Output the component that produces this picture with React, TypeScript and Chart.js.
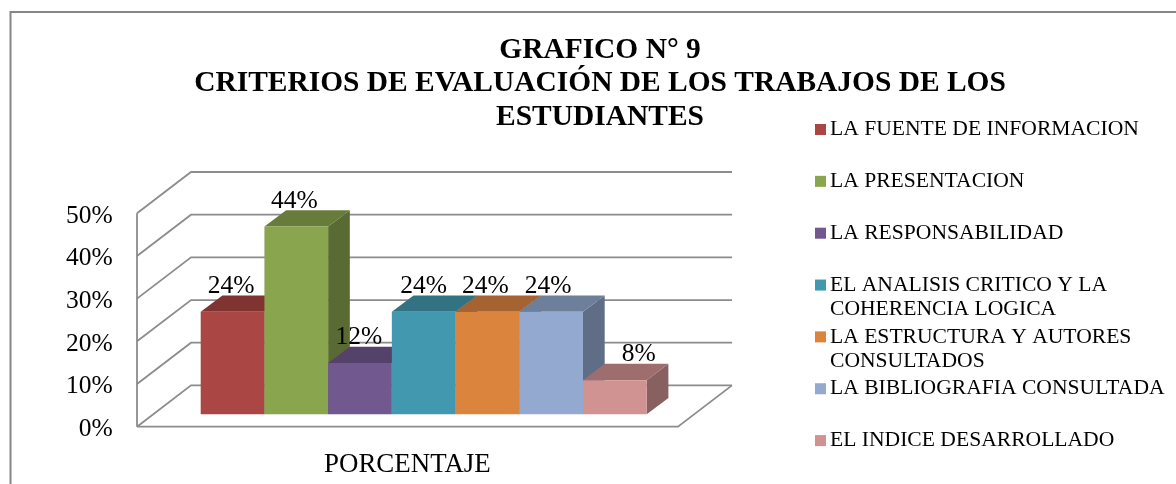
import React, { useEffect, useRef } from "react";
import { Chart, registerables } from "chart.js";

Chart.register(...registerables);

const categories = ["PORCENTAJE"];
const seriesNames = [
  ["LA FUENTE DE INFORMACION"],
  ["LA PRESENTACION"],
  ["LA RESPONSABILIDAD"],
  ["EL ANALISIS CRITICO Y LA", "COHERENCIA LOGICA"],
  ["LA ESTRUCTURA Y AUTORES", "CONSULTADOS"],
  ["LA BIBLIOGRAFIA CONSULTADA"],
  ["EL INDICE DESARROLLADO"],
];
const seriesValues = [24, 44, 12, 24, 24, 24, 8];
const frontColors = ["#AA4643", "#89A54E", "#71588F", "#4198AF", "#DB843D", "#93A9CF", "#D19392"];
const topColors = ["#7F3432", "#677C3A", "#55426B", "#317283", "#A46330", "#6E7F9B", "#9D6E6D"];
const sideColors = ["#6E2E2C", "#596B32", "#49395D", "#2A6272", "#8E5628", "#5F6E86", "#886060"];
const titleLines = ["GRAFICO N° 9", "CRITERIOS DE EVALUACIÓN DE LOS TRABAJOS DE LOS", "ESTUDIANTES"];

const SERIF = "'Liberation Serif', 'Times New Roman', serif";
const GRID = "#8C8C8C";
const BAR_DEPTH = { dx: 21.7, dy: -16.3 };
const FRONT_WALL = { dx: -16.2, dy: 12.4 };
const BACK_WALL = { dx: 37.8, dy: -28.9 };
const LABEL_SHIFT = [-1.5, -2, -1, 0, -2, -3, 24];

const scene3d = {
  id: "scene3d",
  beforeDraw(chart: any) {
    const { ctx, width, height } = chart;
    ctx.save();
    ctx.fillStyle = "#fff";
    ctx.fillRect(0, 0, width, height);
    ctx.strokeStyle = "#868686";
    ctx.lineWidth = 2;
    ctx.strokeRect(10.5, 12, 1200, 600);
    ctx.restore();
  },
  beforeDatasetsDraw(chart: any) {
    const { ctx, scales, chartArea } = chart;
    const y = scales.y;
    const x0 = chartArea.left;
    const x1 = chartArea.right;
    ctx.save();
    ctx.strokeStyle = GRID;
    ctx.lineWidth = 1.8;
    const base = y.getPixelForValue(0);
    const top = y.getPixelForValue(50);
    ctx.beginPath();
    ctx.moveTo(x0 + FRONT_WALL.dx, top + FRONT_WALL.dy);
    ctx.lineTo(x0 + FRONT_WALL.dx, base + FRONT_WALL.dy);
    ctx.stroke();
    for (const t of y.ticks) {
      const py = y.getPixelForValue(t.value);
      ctx.beginPath();
      ctx.moveTo(x0 + FRONT_WALL.dx, py + FRONT_WALL.dy);
      ctx.lineTo(x0 + BACK_WALL.dx, py + BACK_WALL.dy);
      ctx.lineTo(x1 + BACK_WALL.dx, py + BACK_WALL.dy);
      ctx.stroke();
    }
    ctx.beginPath();
    ctx.moveTo(x0 + FRONT_WALL.dx, base + FRONT_WALL.dy);
    ctx.lineTo(x1 + FRONT_WALL.dx, base + FRONT_WALL.dy);
    ctx.lineTo(x1 + BACK_WALL.dx, base + BACK_WALL.dy);
    ctx.stroke();
    ctx.restore();
  },
  beforeDatasetDraw() {
    return false;
  },
  afterDatasetsDraw(chart: any) {
    const { ctx } = chart;
    const metas = chart.getSortedVisibleDatasetMetas();
    const poly = (pts: number[][], color: string) => {
      ctx.fillStyle = color;
      ctx.beginPath();
      pts.forEach((p, i) => (i ? ctx.lineTo(p[0], p[1]) : ctx.moveTo(p[0], p[1])));
      ctx.closePath();
      ctx.fill();
    };
    const { dx, dy } = BAR_DEPTH;
    metas.forEach((meta: any) => {
      const i = meta.index;
      const bar = meta.data[0];
      const { x, y, base, width } = bar.getProps(["x", "y", "base", "width"], true);
      const l = x - width / 2;
      const r = x + width / 2;
      poly([[r, y], [r + dx, y + dy], [r + dx, base + dy], [r, base]], sideColors[i]);
      poly([[l, y], [r, y], [r + dx, y + dy], [l + dx, y + dy]], topColors[i]);
      bar.draw(ctx, chart.chartArea);
    });
    ctx.save();
    ctx.fillStyle = "#000";
    ctx.font = `25.5px ${SERIF}`;
    ctx.textAlign = "center";
    ctx.textBaseline = "middle";
    metas.forEach((meta: any) => {
      const i = meta.index;
      const bar = meta.data[0];
      const { x, y } = bar.getProps(["x", "y"], true);
      ctx.fillText(`${seriesValues[i]}%`, x + LABEL_SHIFT[i], y - 25.5);
    });
    // legend
    ctx.font = `21.6px ${SERIF}`;
    ctx.textAlign = "left";
    seriesNames.forEach((lines, i) => {
      const cy = 129.5 + i * 51.85;
      ctx.fillStyle = frontColors[i];
      ctx.fillRect(815, cy - 5.5, 11, 11);
      ctx.fillStyle = "#000";
      lines.forEach((t, k) => ctx.fillText(t, 830, cy + k * 24));
    });
    ctx.restore();
  },
};

export default function App() {
  const ref = useRef<HTMLCanvasElement>(null);
  useEffect(() => {
    document.body.style.margin = "0";
    const chart = new Chart(ref.current!, {
      type: "bar",
      data: {
        labels: categories,
        datasets: seriesNames.map((n, i) => ({
          label: n.join(" "),
          data: [seriesValues[i]],
          backgroundColor: frontColors[i],
          borderWidth: 0,
          barPercentage: 1,
          categoryPercentage: 0.8244,
        })),
      },
      options: {
        animation: false,
        responsive: false,
        layout: { padding: { left: 24, right: 0, top: 0, bottom: 0 } },
        plugins: {
          legend: { display: false },
          tooltip: { enabled: false },
          title: {
            display: true,
            text: titleLines,
            color: "#000",
            font: { family: SERIF, size: 29.44, weight: "bold", lineHeight: 1.14 },
            padding: { top: 33.5, bottom: 66.7 },
          },
        },
        scales: {
          x: {
            grid: { display: false },
            border: { display: false },
            ticks: {
              color: "#000",
              font: { family: SERIF, size: 26.9 },
              labelOffset: -16.3,
              padding: 26,
              maxRotation: 0,
            },
            afterFit: (s: any) => {
              s.height = 69.7;
            },
          },
          y: {
            min: 0,
            max: 50,
            position: "left",
            grid: { display: false, drawTicks: false },
            border: { display: false },
            ticks: {
              stepSize: 10,
              color: "#000",
              font: { family: SERIF, size: 25.5 },
              labelOffset: 15,
              padding: 40.5,
              callback: (v: any) => `${v}%`,
            },
            afterFit: (s: any) => {
              s.width = 129.2;
            },
          },
          reserve: {
            position: "right",
            grid: { display: false, drawTicks: false },
            border: { display: false },
            ticks: { display: false },
            afterFit: (s: any) => {
              s.width = 481.8;
            },
          },
        },
      },
      plugins: [scene3d],
    } as any);
    return () => chart.destroy();
  }, []);
  return (
    <div style={{ position: "fixed", left: 0, top: 0, width: 1176, height: 484, overflow: "hidden" }}>
      <canvas ref={ref} width={1176} height={484} style={{ display: "block" }} />
    </div>
  );
}
